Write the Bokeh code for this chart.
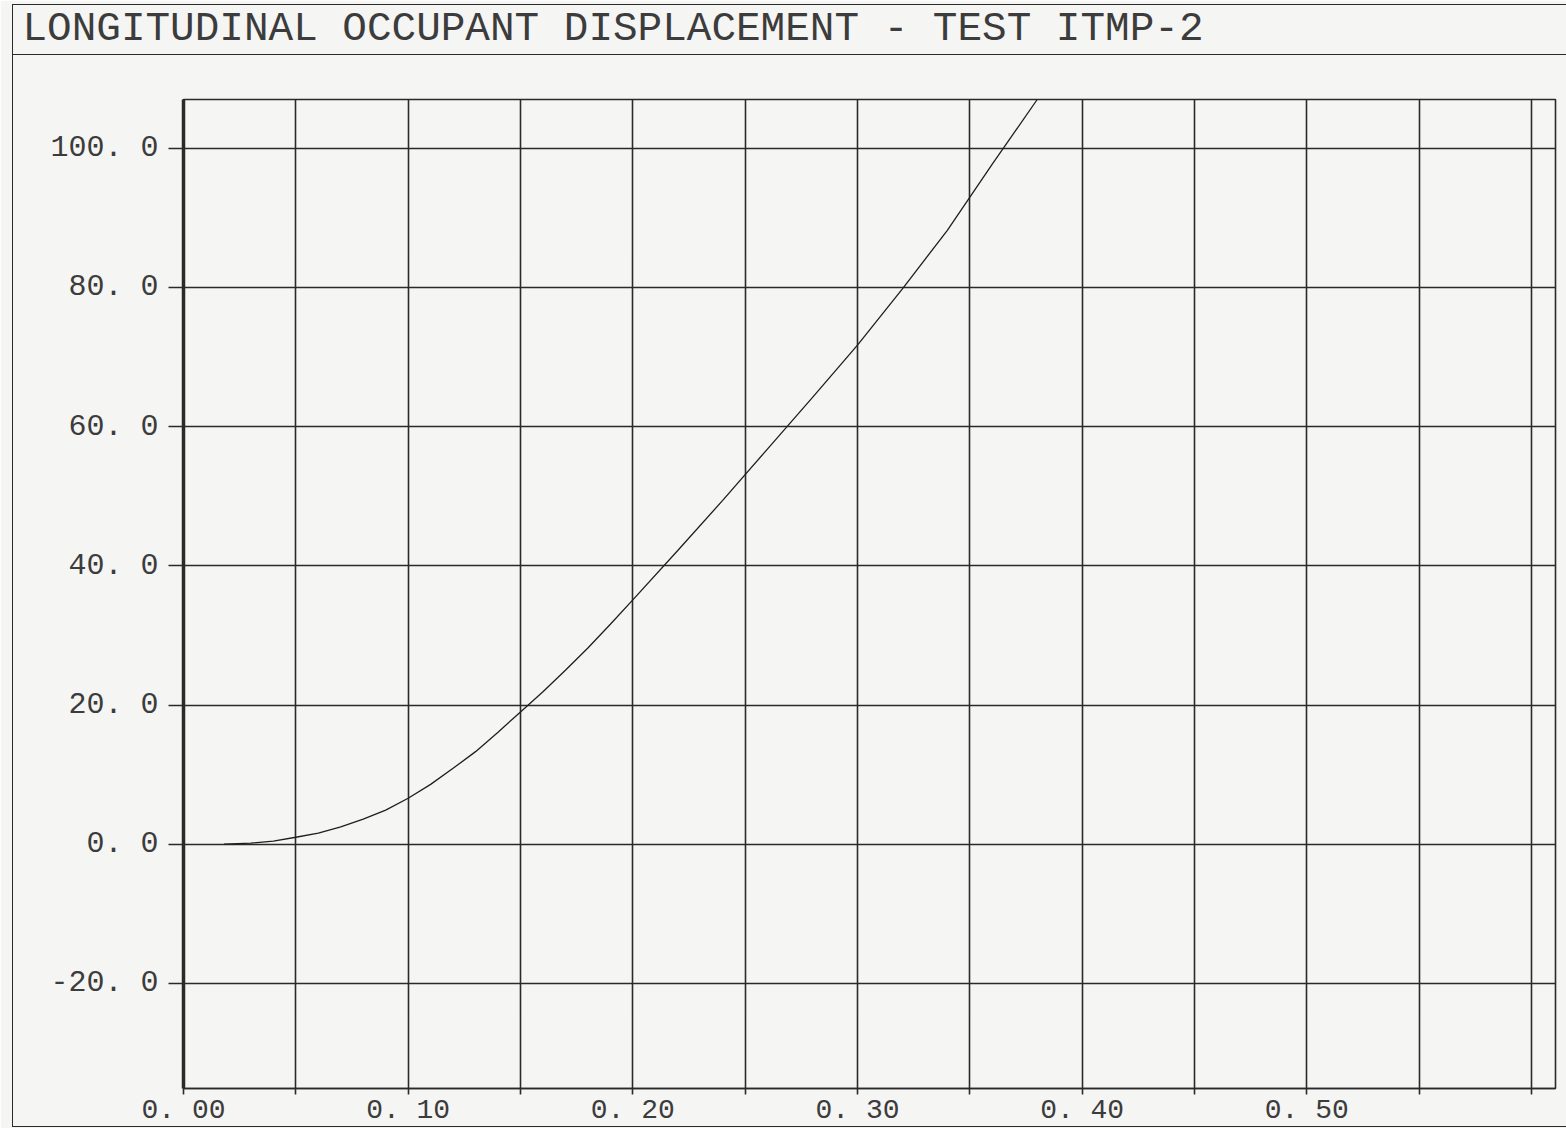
from bokeh.plotting import figure
from bokeh.models import FixedTicker, Title, Range1d, InlineStyleSheet, LinearAxis
from bokeh.embed import file_html
from bokeh.resources import INLINE

# ---------------- data ----------------
title_text = "LONGITUDINAL OCCUPANT DISPLACEMENT - TEST ITMP-2"

time_s = [0.018, 0.03, 0.04, 0.05, 0.06, 0.07, 0.08, 0.09, 0.10, 0.11, 0.12,
          0.13, 0.14, 0.15, 0.16, 0.17, 0.18, 0.19, 0.20, 0.22, 0.24, 0.26,
          0.28, 0.30, 0.32, 0.34, 0.36, 0.38]
displacement = [0.0, 0.15, 0.45, 1.0, 1.6, 2.5, 3.6, 4.9, 6.6, 8.6, 10.9,
                13.3, 16.1, 19.0, 21.9, 25.0, 28.2, 31.6, 35.1, 42.2, 49.4, 56.8,
                64.2, 71.7, 79.8, 88.2, 97.7, 107.0]

x_ticks = [0.0, 0.05, 0.1, 0.15, 0.2, 0.25, 0.3, 0.35, 0.4, 0.45, 0.5, 0.55, 0.6]
x_tick_labels = ["0. 00", "", "0. 10", "", "0. 20", "", "0. 30", "", "0. 40", "", "0. 50", "", ""]
y_ticks = [-20, 0, 20, 40, 60, 80, 100]
y_tick_labels = ["-20. 0", "0. 0", "20. 0", "40. 0", "60. 0", "80. 0", "100. 0"]

# ---------------- styling ----------------
FONT = "Liberation Mono"
INK = "#2a2a2a"
TEXT = "#3c3c3c"
PAPER = "#f5f5f4"

page_css = InlineStyleSheet(css="""
:host { position: relative; }
:host::before {
  content: ""; position: absolute; left: 12px; top: 4px; right: 0px; bottom: 1px;
  border-left: 1.5px solid #2a2a2a; border-top: 1.5px solid #2a2a2a;
  border-bottom: 1.5px solid #2a2a2a;
  pointer-events: none; z-index: 5;
}
:host::after {
  content: ""; position: absolute; left: 12px; right: 0px; top: 54px;
  border-top: 1.5px solid #2a2a2a; pointer-events: none; z-index: 5;
}
""")

p = figure(width=1566, height=1128,
           x_range=Range1d(0.0, 0.6107), y_range=Range1d(-35.1, 107.0),
           output_backend="svg", toolbar_location=None,
           min_border_left=183, min_border_right=11,
           min_border_top=99, min_border_bottom=35,
           background_fill_color=PAPER, border_fill_color=PAPER,
           stylesheets=[page_css])

# invisible spacer axis between the frame and the title (keeps title at the page top)
spacer = LinearAxis(ticker=FixedTicker(ticks=[0.3]), major_label_overrides={0.3: ""},
                    axis_line_color=None, major_tick_out=41, major_tick_in=0,
                    major_tick_line_color=None, minor_tick_line_color=None,
                    major_label_standoff=0)
p.add_layout(spacer, "above")

p.title = Title(text=title_text, align="left", offset=-161, standoff=10,
                vertical_align="top",
                text_font=FONT, text_font_size="41px", text_font_style="normal",
                text_color=TEXT)

p.outline_line_color = INK
p.outline_line_width = 1.6

# x axis (bottom)
xax = p.below[0]
xax.ticker = FixedTicker(ticks=x_ticks)
xax.major_label_overrides = {t: l for t, l in zip(x_ticks, x_tick_labels)}
xax.major_tick_out = 6
xax.major_tick_in = 0
xax.minor_tick_line_color = None
xax.major_tick_line_color = INK
xax.major_tick_line_width = 1.6
xax.axis_line_color = INK
xax.axis_line_width = 1.6
xax.major_label_standoff = 0
xax.major_label_text_font = FONT
xax.major_label_text_font_size = "28px"
xax.major_label_text_color = TEXT

# y axis
p.yaxis.ticker = FixedTicker(ticks=y_ticks)
p.yaxis.major_label_overrides = {t: l for t, l in zip(y_ticks, y_tick_labels)}
p.yaxis.major_tick_out = 15
p.yaxis.major_tick_in = 0
p.yaxis.minor_tick_line_color = None
p.yaxis.major_tick_line_color = INK
p.yaxis.major_tick_line_width = 1.6
p.yaxis.axis_line_color = INK
p.yaxis.axis_line_width = 3.5
p.yaxis.major_label_standoff = 10
p.yaxis.major_label_text_font = FONT
p.yaxis.major_label_text_font_size = "30px"
p.yaxis.major_label_text_color = TEXT

# grid
p.xgrid.ticker = FixedTicker(ticks=x_ticks)
p.ygrid.ticker = FixedTicker(ticks=y_ticks)
for g in (p.xgrid, p.ygrid):
    g.grid_line_color = INK
    g.grid_line_width = 1.6
    g.grid_line_alpha = 1.0

# curve
p.line(time_s, displacement, line_color="#1e1e1e", line_width=1.3)

open("out.html", "w").write(file_html(p, INLINE))
